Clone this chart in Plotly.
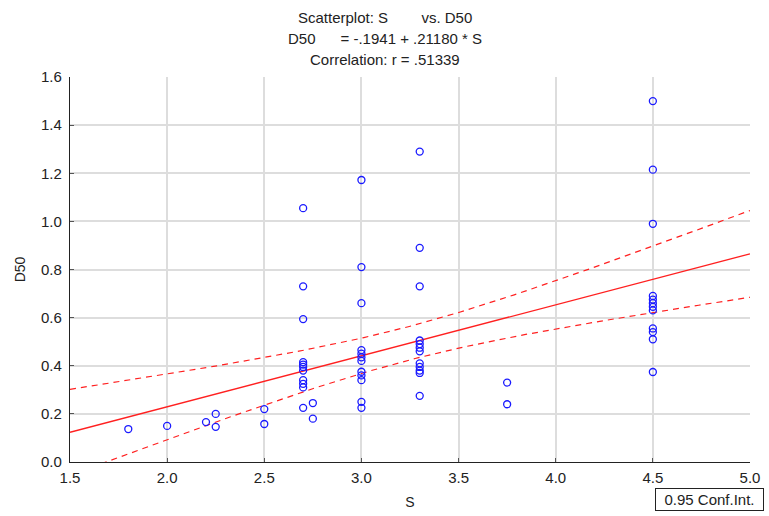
import numpy as np
import plotly.graph_objects as go

# Data
s_vals = [1.8, 2.0, 2.2, 2.25, 2.25, 2.5, 2.5,
          2.7, 2.7, 2.7, 2.7, 2.7, 2.7, 2.7, 2.7, 2.7, 2.7, 2.7,
          2.75, 2.75,
          3.0, 3.0, 3.0, 3.0, 3.0, 3.0, 3.0, 3.0, 3.0, 3.0, 3.0, 3.0,
          3.3, 3.3, 3.3, 3.3, 3.3, 3.3, 3.3, 3.3, 3.3, 3.3, 3.3, 3.3,
          3.75, 3.75,
          4.5, 4.5, 4.5, 4.5, 4.5, 4.5, 4.5, 4.5, 4.5, 4.5, 4.5, 4.5]
d50_vals = [0.137, 0.15, 0.166, 0.20, 0.146, 0.22, 0.158,
            1.055, 0.73, 0.594, 0.415, 0.405, 0.395, 0.38, 0.34, 0.325, 0.31, 0.225,
            0.245, 0.18,
            1.172, 0.81, 0.66, 0.465, 0.45, 0.435, 0.42, 0.375, 0.36, 0.34, 0.25, 0.225,
            1.29, 0.89, 0.73, 0.505, 0.49, 0.475, 0.46, 0.41, 0.395, 0.38, 0.37, 0.275,
            0.33, 0.24,
            1.50, 1.215, 0.99, 0.69, 0.675, 0.66, 0.645, 0.63, 0.555, 0.54, 0.51, 0.374]
intercept = -0.1941
slope = 0.21180
x_ticks = [1.5, 2.0, 2.5, 3.0, 3.5, 4.0, 4.5, 5.0]
y_ticks = [0.0, 0.2, 0.4, 0.6, 0.8, 1.0, 1.2, 1.4, 1.6]

x = np.array(s_vals)
y = np.array(d50_vals)
n = len(x)
xbar = x.mean()
sxx = ((x - xbar) ** 2).sum()
resid = y - (intercept + slope * x)
s_err = np.sqrt((resid ** 2).sum() / (n - 2))
t = 2.005
xl = np.linspace(1.5, 5.0, 200)
yl = intercept + slope * xl
half = t * s_err * np.sqrt(1 / n + (xl - xbar) ** 2 / sxx)

fig = go.Figure()
fig.add_trace(go.Scatter(x=xl, y=yl + half, mode="lines",
                         line=dict(color="#ff2020", width=1.2, dash="6px,5px"), hoverinfo="skip"))
fig.add_trace(go.Scatter(x=xl, y=yl - half, mode="lines",
                         line=dict(color="#ff2020", width=1.2, dash="6px,5px"), hoverinfo="skip"))
fig.add_trace(go.Scatter(x=xl, y=yl, mode="lines",
                         line=dict(color="#ff2020", width=1.4), hoverinfo="skip"))
fig.add_trace(go.Scatter(x=s_vals, y=d50_vals, mode="markers",
                         marker=dict(symbol="circle-open", size=7, color="#1a1aff",
                                     line=dict(width=1.3, color="#1a1aff"))))

font = "Liberation Sans, Arial, sans-serif"
fig.update_layout(
    width=769, height=516,
    margin=dict(l=70, r=19, t=77, b=54, autoexpand=False),
    paper_bgcolor="white", plot_bgcolor="white",
    showlegend=False,
    font=dict(family=font, size=15, color="#222222"),
    xaxis=dict(range=[1.5, 5.0], tickvals=x_ticks, ticktext=[f"{v:.1f}" for v in x_ticks],
               showgrid=True, gridcolor="#dddddd", gridwidth=1.5, zeroline=False,
               showline=True, linecolor="#222222", linewidth=1.3, automargin=False,
               ticks="inside", ticklen=4, tickcolor="#555555", ticklabelstandoff=2,
               title=dict(text="S", font=dict(size=14), standoff=12)),
    yaxis=dict(range=[0.0, 1.6], tickvals=y_ticks, ticktext=[f"{v:.1f}" for v in y_ticks],
               showgrid=True, gridcolor="#dddddd", gridwidth=1.5, zeroline=False,
               showline=True, linecolor="#222222", linewidth=1.3, automargin=False,
               ticks="inside", ticklen=4, tickcolor="#555555", ticklabelstandoff=4,
               title=dict(text="D50", font=dict(size=14), standoff=12)),
    annotations=[
        dict(text="Scatterplot: S\u00a0\u00a0\u00a0\u00a0\u00a0\u00a0\u00a0\u00a0vs. D50",
             xref="paper", yref="paper", x=0.5, y=1, xshift=-25, yshift=60, xanchor="center",
             yanchor="middle", showarrow=False, font=dict(size=15)),
        dict(text="D50\u00a0\u00a0\u00a0\u00a0\u00a0\u00a0= -.1941 + .21180 * S",
             xref="paper", yref="paper", x=0.5, y=1, xshift=-25, yshift=39, xanchor="center",
             yanchor="middle", showarrow=False, font=dict(size=15)),
        dict(text="Correlation: r = .51339",
             xref="paper", yref="paper", x=0.5, y=1, xshift=-25, yshift=18, xanchor="center",
             yanchor="middle", showarrow=False, font=dict(size=15)),
        dict(text="0.95 Conf.Int.", xref="paper", yref="paper", x=1, y=0,
             xshift=14, yshift=-26, xanchor="right", yanchor="top", showarrow=False,
             width=103, align="center",
             bordercolor="#222222", borderwidth=1, borderpad=2, bgcolor="white",
             font=dict(size=15)),
    ],
)
fig.write_html("out.html")
